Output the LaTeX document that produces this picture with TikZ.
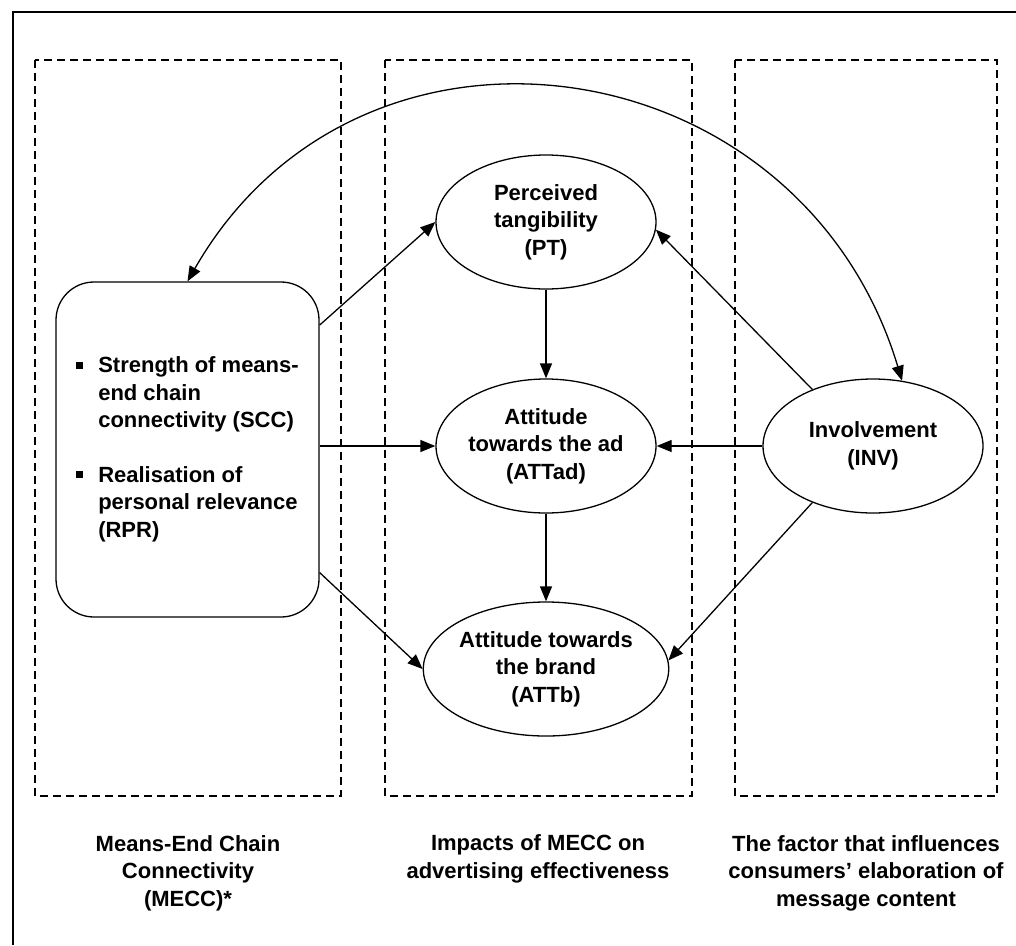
\documentclass[tikz,border=0pt]{standalone}
\usepackage{fontspec}
\setmainfont{Liberation Sans}
\usetikzlibrary{shapes.geometric,arrows.meta,calc}

\newcommand{\sqbullet}{\raisebox{4pt}{\rule{7pt}{7pt}}}

\begin{document}
\begin{tikzpicture}[x=1pt,y=-1pt,
  every node/.style={font=\fontsize{22}{27.5}\selectfont\bfseries},
  panel/.style={draw,dashed,dash pattern=on 8pt off 5pt,line width=1.3pt},
  construct/.style={draw,ellipse,line width=1.3pt,minimum width=220pt,
    minimum height=134pt,inner sep=0pt,align=center},
  mecc/.style={draw,rectangle,rounded corners=38pt,line width=1.3pt,
    minimum width=263pt,minimum height=335pt,inner sep=0pt},
  caption/.style={align=center,inner sep=0pt},
  link/.style={line width=1.3pt,-{Triangle[length=15pt,width=12pt]}},
  duallink/.style={line width=1.3pt,
    {Triangle[length=15pt,width=12pt]}-{Triangle[length=15pt,width=12pt]}}]

\useasboundingbox (0,0) rectangle (1016,945);

% outer frame (left and top edges)
\draw[line width=1.6pt] (13,945) -- (13,12) -- (1016,12);

% the three dashed panels
\draw[panel] (35,60) rectangle (341,796);
\draw[panel] (385,60) rectangle (692,796);
\draw[panel] (735,60) rectangle (997,796);

% MECC box
\node[mecc] (box) at (187.5,449.5) {%
  \begin{tabular}{@{}l@{\hspace{15pt}}l@{}}
  \sqbullet & Strength of means-\\
            & end chain\\
            & connectivity (SCC)\\[27pt]
  \sqbullet & Realisation of\\
            & personal relevance\\
            & (RPR)
  \end{tabular}};

% constructs
\node[construct] (pt)  at (546,222) {Perceived\\tangibility\\(PT)};
\node[construct] (ad)  at (546,446) {Attitude\\towards the ad\\(ATTad)};
\node[construct] (ab)  at (546,669) {Attitude towards\\the brand\\(ATTb)};
\node[construct] (inv) at (873,446) {Involvement\\(INV)};

% panel captions
\node[caption] (cap1) at (188,873) {Means-End Chain\\Connectivity\\(MECC)*};
\node[caption] (cap2) at (538,859) {Impacts of MECC on\\advertising effectiveness};
\node[caption] (cap3) at (866,873) {The factor that influences\\consumers’ elaboration of\\message content};

% paths from the MECC box
\draw[link] ($(box.north east)!0.13!(box.south east)$) -- (pt.west);
\draw[link] (ad.west -| box.east) -- (ad.west);
\draw[link] ($(box.north east)!0.866!(box.south east)$) -- (ab.west);

% paths within the middle panel
\draw[link] (pt.south) -- (ad.north);
\draw[link] (ad.south) -- (ab.north);

% paths from involvement
\draw[link] (inv.137) -- (pt.-4);
\draw[link] (inv.west) -- (ad.east);
\draw[link] (inv.-137) -- (ab.4);

% correlation between MECC and involvement
\draw[duallink] (box.north) .. controls (361,-21) and (800.5,43.4) .. (inv.66);

\end{tikzpicture}
\end{document}
